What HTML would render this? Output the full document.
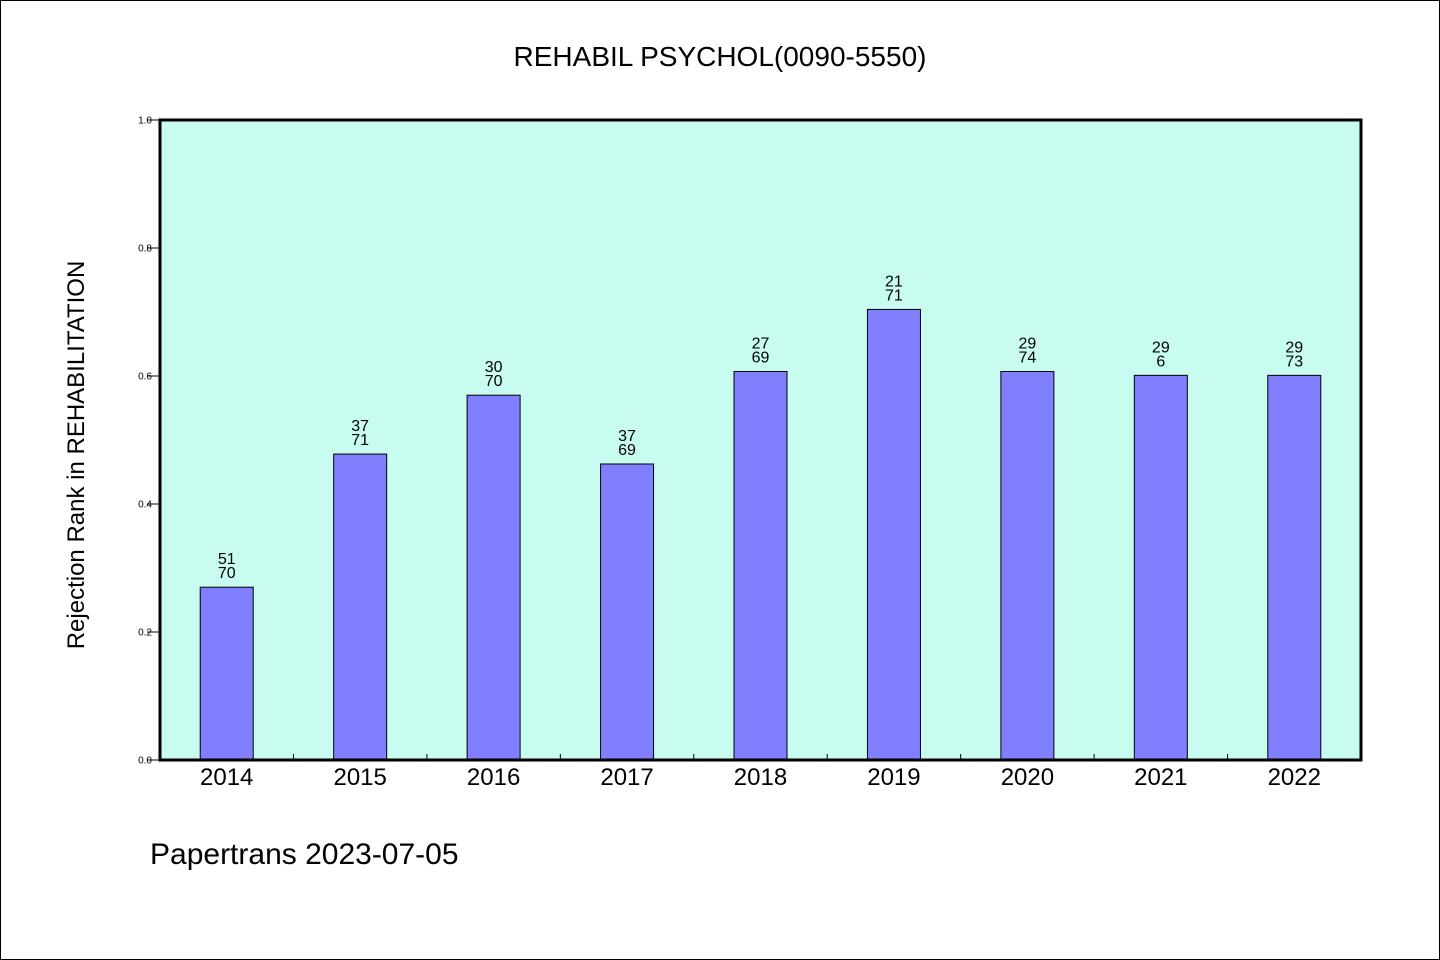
<!DOCTYPE html>
<html><head><meta charset="utf-8"><style>
html,body{margin:0;padding:0;background:#fff}
svg{display:block}
text{font-family:"WenQuanYi Zen Hei","Liberation Sans",sans-serif;fill:#000}
</style></head><body>
<svg id="chart" width="1440" height="960" viewBox="0 0 1440 960" xmlns="http://www.w3.org/2000/svg">
<rect x="0.5" y="0.5" width="1439" height="959" fill="#fff" stroke="#000"/>
<text x="720" y="66" font-size="28" text-anchor="middle">REHABIL PSYCHOL(0090-5550)</text>
<rect x="160" y="120" width="1201" height="640" fill="#c8fcf0"/>
<g id="bars"></g>
<g id="axes"></g>
<rect x="160" y="120" width="1201" height="640" fill="none" stroke="#000" stroke-width="3"/>
<text transform="translate(84,455) rotate(-90)" font-size="24" text-anchor="middle">Rejection Rank in REHABILITATION</text>
<text x="150" y="864" font-size="30">Papertrans 2023-07-05</text>
</svg>
<script>
const categories=["2014","2015","2016","2017","2018","2019","2020","2021","2022"];
const values=[0.270,0.478,0.570,0.4625,0.607,0.704,0.607,0.601,0.601];
const ranks=["51","37","30","37","27","21","29","29","29"];
const totals=["70","71","70","69","69","71","74","6","73"];
const yTicks=[0,0.2,0.4,0.6,0.8,1.0];
const yTickLabels=["0.0","0.2","0.4","0.6","0.8","1.0"];
const NS="http://www.w3.org/2000/svg";
const L=160,R=1361,T=120,B=760;
const band=(R-L)/categories.length;
const x=i=>L+band*(i+0.5);
const y=v=>B-(B-T)*v;
function mk(tag,attrs,parent){const e=document.createElementNS(NS,tag);for(const k in attrs)e.setAttribute(k,attrs[k]);parent.appendChild(e);return e;}
const bars=document.getElementById('bars'),axes=document.getElementById('axes');
const bw=53;
values.forEach((v,i)=>{
  const r=mk('rect',{x:x(i)-bw/2,y:y(v),width:bw,height:B-y(v),fill:'#8080ff',stroke:'#000','stroke-width':1},bars);
  
  
  const t1=mk('text',{x:x(i),y:y(v)-23,'font-size':16,'text-anchor':'middle'},bars);
  t1.textContent=ranks[i];
  
  
  const t2=mk('text',{x:x(i),y:y(v)-9,'font-size':16,'text-anchor':'middle'},bars);
  t2.textContent=totals[i];
  
  
  const xl=mk('text',{x:x(i),y:785,'font-size':24,'text-anchor':'middle'},axes);
  xl.textContent=categories[i];
  
  
  if(i>0){const tk=mk('line',{x1:L+band*i,x2:L+band*i,y1:B,y2:B-6,stroke:'#000','stroke-width':1},axes);
  
  }
});
yTicks.forEach((v,i)=>{
  const tk=mk('line',{x1:147,x2:L,y1:y(v),y2:y(v),stroke:'#000','stroke-width':1},axes);
  
  
  const t=mk('text',{x:152,y:y(v)+3.5,'font-size':10,'text-anchor':'end'},axes);
  t.textContent=yTickLabels[i];
  
  
});
</script>
</body></html>
